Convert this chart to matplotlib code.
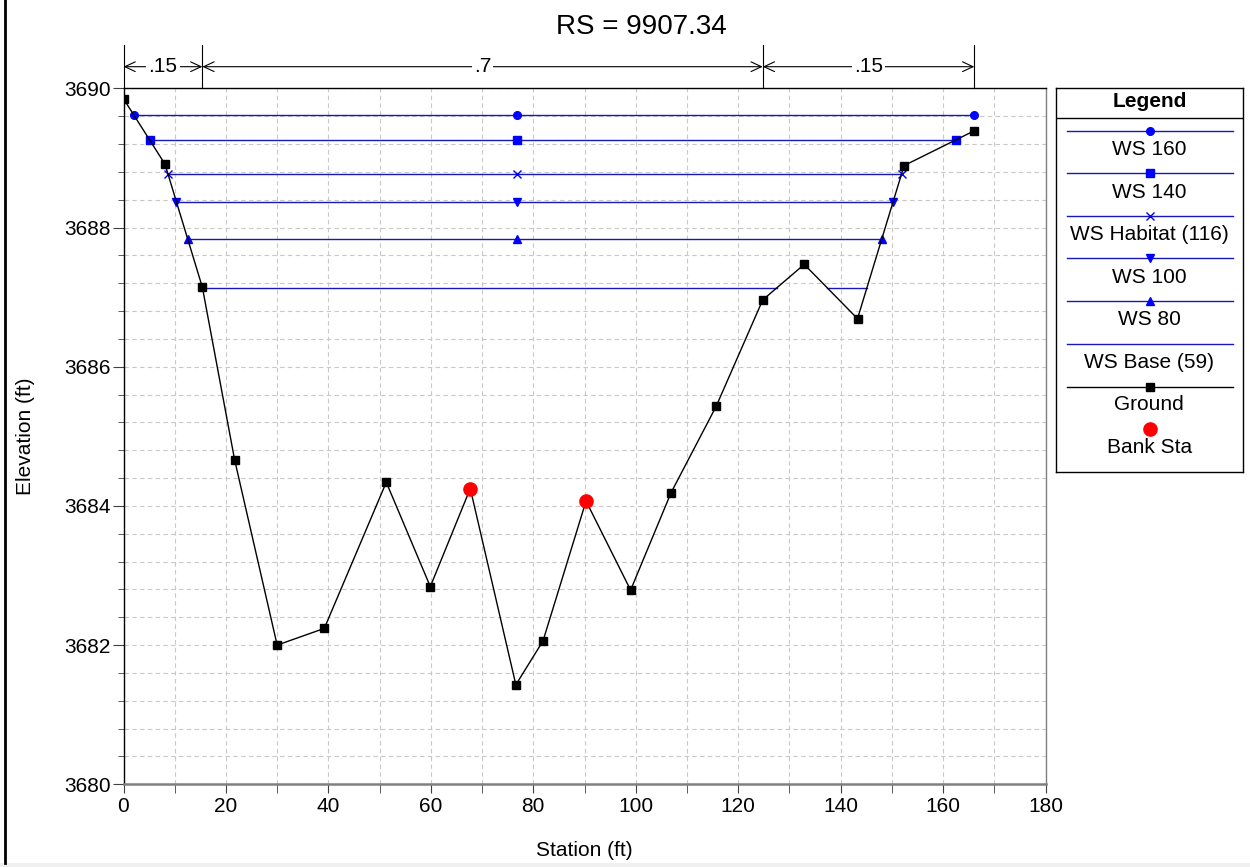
import matplotlib
matplotlib.use('Agg')
import matplotlib.pyplot as plt
import matplotlib.transforms as mtransforms
from matplotlib.lines import Line2D
from matplotlib.patches import Rectangle
import numpy as np

plt.rcParams['font.family'] = ['Liberation Sans', 'DejaVu Sans']

# ---------------- data ----------------
title = 'RS = 9907.34'
x_label = 'Station (ft)'
y_label = 'Elevation (ft)'

ground_sta = [0.0, 8.1, 15.4, 21.7, 30.0, 39.2, 51.3, 59.9, 67.7, 76.6,
              81.9, 90.3, 99.0, 106.9, 115.7, 124.8, 132.9, 143.3, 152.4, 166.1]
ground_elev = [3689.85, 3688.91, 3687.14, 3684.66, 3682.00, 3682.24, 3684.34,
               3682.84, 3684.25, 3681.43, 3682.06, 3684.07, 3682.79, 3684.19,
               3685.43, 3686.96, 3687.47, 3686.69, 3688.89, 3689.39]

bank_sta = [67.7, 90.3]
bank_elev = [3684.25, 3684.07]

ws_names = ['WS 160', 'WS 140', 'WS Habitat (116)', 'WS 100', 'WS 80', 'WS Base (59)']
ws_elev = [3689.62, 3689.26, 3688.77, 3688.37, 3687.83, 3687.13]
ws_left = [1.98, 5.08, 8.68, 10.33, 12.55, 15.4]
ws_right = [166.1, 162.5, 151.9, 150.25, 148.0, 145.1]
ws_markers = ['o', 's', 'x', 'v', '^', None]
ws_mid_sta = 76.8
base_dry = [127.5, 137.4]   # ground above base WS between these stations

n_breaks = [0.0, 15.4, 124.8, 166.1]
n_values = ['.15', '.7', '.15']

x_ticks = [0, 20, 40, 60, 80, 100, 120, 140, 160, 180]
y_ticks = [3680, 3682, 3684, 3686, 3688, 3690]

# ---------------- figure ----------------
W, H = 1250, 867
fig = plt.figure(figsize=(W / 100, H / 100), dpi=100)

ax_l, ax_r, ax_t, ax_b = 123.5, 1045.5, 88.3, 784.3
ax = fig.add_axes([ax_l / W, 1 - ax_b / H, (ax_r - ax_l) / W, (ax_b - ax_t) / H])
ax.set_xlim(0, 180)
ax.set_ylim(3680, 3690)

ax.set_xticks(x_ticks)
ax.set_xticks(np.arange(10, 180, 20), minor=True)
ax.set_yticks(y_ticks)
ax.set_yticks(np.arange(3680, 3690.01, 0.4), minor=True)
ax.tick_params(axis='both', which='both', direction='out', labelsize=15, color='#404040')
ax.tick_params(axis='x', which='both', length=6.5, pad=3)
ax.tick_params(axis='y', which='major', length=8, pad=1)
ax.tick_params(axis='y', which='minor', length=4.5)

ax.grid(which='both', color='#c8c8c8', linestyle=(0, (4, 3)), linewidth=0.8, zorder=0)
ax.set_axisbelow(True)

for s in ['top', 'left']:
    ax.spines[s].set_color('black')
    ax.spines[s].set_linewidth(1.0)
ax.spines['bottom'].set_color('#808080')
ax.spines['bottom'].set_linewidth(1.8)
ax.spines['right'].set_color('#808080')
ax.spines['right'].set_linewidth(1.0)

line_col = '#1818b8'
mark_col = '#0000ff'
msizes = {'o': 5.5, 's': 5.5, 'x': 6, 'v': 6, '^': 6}
for name, el, xl, xr, mk in zip(ws_names, ws_elev, ws_left, ws_right, ws_markers):
    if mk is None:
        xs = [xl, base_dry[0], np.nan, base_dry[1], xr]
        ax.plot(xs, [el] * len(xs), color=line_col, lw=1.0, zorder=2)
    else:
        ax.plot([xl, xr], [el, el], color=line_col, lw=1.0, zorder=2)
        ax.plot([xl, ws_mid_sta, xr], [el] * 3, linestyle='none', marker=mk,
                ms=msizes[mk], color=mark_col, mec=mark_col, mew=1.0, zorder=3)

ax.plot(ground_sta, ground_elev, color='black', lw=1.0, marker='s', ms=6,
        mfc='black', mec='black', zorder=4)
ax.plot(bank_sta, bank_elev, linestyle='none', marker='o', ms=9.5,
        color='#ff0000', mec='#ff0000', zorder=5)

# roughness (n value) bar above plot
trans = mtransforms.blended_transform_factory(ax.transData, ax.transAxes)
bar_y = 1 + (ax_t - 66.7) / (ax_b - ax_t)
top_y = 1 + (ax_t - 45.0) / (ax_b - ax_t)
for b in n_breaks:
    ax.plot([b, b], [1.0, top_y], transform=trans, clip_on=False, color='black', lw=0.8)
for i, nv in enumerate(n_values):
    x0, x1 = n_breaks[i], n_breaks[i + 1]
    ax.annotate('', xy=(x1, bar_y), xytext=(x0, bar_y), xycoords=trans, textcoords=trans,
                arrowprops=dict(arrowstyle='<->,head_length=0.75,head_width=0.35',
                                lw=0.8, color='black', shrinkA=0, shrinkB=0),
                annotation_clip=False)
    ax.text((x0 + x1) / 2, bar_y, nv, transform=trans, ha='center', va='center',
            fontsize=15, clip_on=False,
            bbox=dict(facecolor='white', edgecolor='none', pad=1.5), zorder=6)

# titles / labels
fig.text(641 / W, 1 - 27 / H, title, ha='center', va='center', fontsize=20)
fig.text((ax_l + ax_r) / 2 / W, 1 - 850 / H, x_label, ha='center', va='center', fontsize=15)
fig.text(25.5 / W, 1 - 436 / H, y_label, ha='center', va='center', fontsize=15, rotation=90)

# ---------------- legend box ----------------
lg_l, lg_r, lg_t, lg_b = 1056, 1242.7, 88.3, 471.7
lax = fig.add_axes([lg_l / W, 1 - lg_b / H, (lg_r - lg_l) / W, (lg_b - lg_t) / H])
lw_px, lh_px = lg_r - lg_l, lg_b - lg_t
lax.set_xlim(0, lw_px)
lax.set_ylim(lh_px, 0)
lax.set_xticks([])
lax.set_yticks([])
for s in lax.spines.values():
    s.set_color('black')
    s.set_linewidth(1.0)
lax.text(lw_px / 2, 13, 'Legend', ha='center', va='center', fontsize=15, fontweight='bold')
lax.axhline(30, color='black', lw=1.0)

entry_line_y = [42.4, 85.0, 127.7, 170.0, 212.7, 255.7]
entry_text_y = [61.0, 104.0, 146.7, 189.0, 231.0, 274.4]
lx0, lx1, lmx = 10.7, 176.7, 94
for name, mk, ly, ty in zip(ws_names, ws_markers, entry_line_y, entry_text_y):
    lax.plot([lx0, lx1], [ly, ly], color=line_col, lw=1.0)
    if mk is not None:
        lax.plot([lmx], [ly], marker=mk, ms=msizes[mk], color=mark_col, mec=mark_col, mew=1.0)
    lax.text(lw_px / 2, ty, name, ha='center', va='center', fontsize=15)
lax.plot([lx0, lx1], [298.4, 298.4], color='black', lw=1.0)
lax.plot([lmx], [298.4], marker='s', ms=6, color='black')
lax.text(lw_px / 2, 316.7, 'Ground', ha='center', va='center', fontsize=15)
lax.plot([lmx], [341.0], marker='o', ms=9.5, color='#ff0000', mec='#ff0000')
lax.text(lw_px / 2, 359.4, 'Bank Sta', ha='center', va='center', fontsize=15)

# window frame bits
fig.add_artist(Line2D([4.5 / W, 4.5 / W], [4 / H, 1], color='black', lw=2,
                      transform=fig.transFigure))
fig.add_artist(Rectangle((0, 0), 1, 4 / H, transform=fig.transFigure,
                         facecolor='#f0f0f0', edgecolor='none'))

fig.savefig('out.png', dpi=100)
